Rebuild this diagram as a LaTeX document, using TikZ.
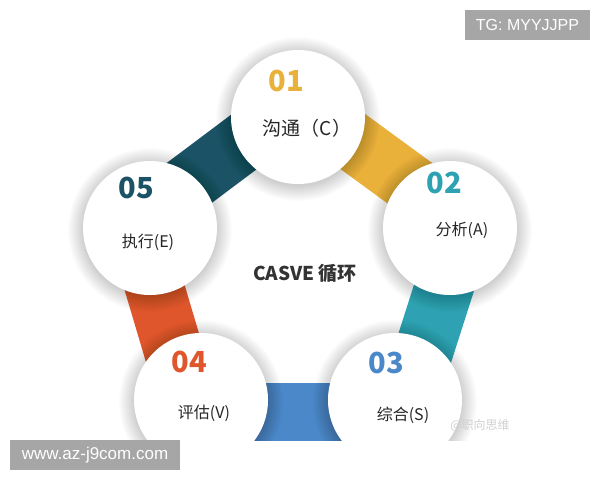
\documentclass[tikz,border=0pt]{standalone}
\usepackage{fontspec}
\setmainfont{Noto Sans CJK SC}
\newfontfamily\latinsans{Liberation Sans}
\usetikzlibrary{calc}
\definecolor{cA}{HTML}{E9B03A}
\definecolor{cB}{HTML}{2EA2B3}
\definecolor{cC}{HTML}{4A88C9}
\definecolor{cD}{HTML}{E0562C}
\definecolor{cE}{HTML}{1B5266}
\definecolor{wmgrey}{HTML}{A6A6A6}
\begin{document}
\begin{tikzpicture}[x=1pt,y=1pt,
  disc/.style={circle, fill=white, minimum size=134pt, inner sep=0pt},
  softshade/.style={fill=black, opacity=0.011},
  num/.style={inner sep=0pt, font=\fontsize{29}{29}\selectfont\bfseries},
  lab/.style={inner sep=0pt, text=black!85, font=\fontsize{16}{16}\selectfont},
  title/.style={inner sep=0pt, text=black!80, font=\fontsize{19}{19}\selectfont\bfseries},
  wm/.style={fill=wmgrey, text=white, inner sep=0pt, font=\latinsans\fontsize{16}{16}\selectfont}
]
\useasboundingbox (0,0) rectangle (600,480);
\fill[white] (0,0) rectangle (600,480);
\begin{scope}
\clip (0,40) rectangle (600,480);
\coordinate (p1) at (298,363);
\coordinate (p2) at (450,252);
\coordinate (p3) at (395,80);
\coordinate (p4) at (201,80);
\coordinate (p5) at (150,252);
\foreach \a/\b/\col in {p1/p2/cA, p2/p3/cB, p3/p4/cC, p4/p5/cD, p5/p1/cE}{
  \fill[\col] ($(\a)!42pt!90:(\b)$) -- ($(\b)!42pt!-90:(\a)$)
     -- ($(\b)!17pt!90:(\a)$) -- ($(\a)!17pt!-90:(\b)$) -- cycle;
}
\foreach \p in {p1,p2,p3,p4,p5}{
  \foreach \r in {67,68,...,82}{
    \fill[softshade] ($(\p)+(0,-2)$) circle (\r pt);
  }
}
\node[disc] (c1) at (p1) {};
\node[disc] (c2) at (p2) {};
\node[disc] (c3) at (p3) {};
\node[disc] (c4) at (p4) {};
\node[disc] (c5) at (p5) {};
\node[num, text=cA] (n1) at (286,399) {01};
\node[lab, font=\fontsize{19}{19}\selectfont] (l1) at (307,352) {沟通（C）};
\node[num, text=cB] (n2) at (444,297) {02};
\node[lab] (l2) at (462,250) {分析(A)};
\node[num, text=cC] (n3) at (386,117) {03};
\node[lab] (l3) at (403,65) {综合(S)};
\node[num, text=cD] (n4) at (189,118) {04};
\node[lab] (l4) at (204,67) {评估(V)};
\node[num, text=cE] (n5) at (136,292) {05};
\node[lab] (l5) at (148,238) {执行(E)};
\node[title] (t) at (305,207) {CASVE 循环};
\node[inner sep=0pt, text=black!18, font=\fontsize{12}{12}\selectfont] (src) at (480,55) {@职向思维};
\end{scope}
\node[wm, minimum width=125pt, minimum height=30pt] (tg) at (527.5,455) {TG: MYYJJPP};
\node[wm, minimum width=170pt, minimum height=30pt, font=\latinsans\fontsize{17}{17}\selectfont] (www) at (95,25) {www.az-j9com.com};
\end{tikzpicture}
\end{document}
